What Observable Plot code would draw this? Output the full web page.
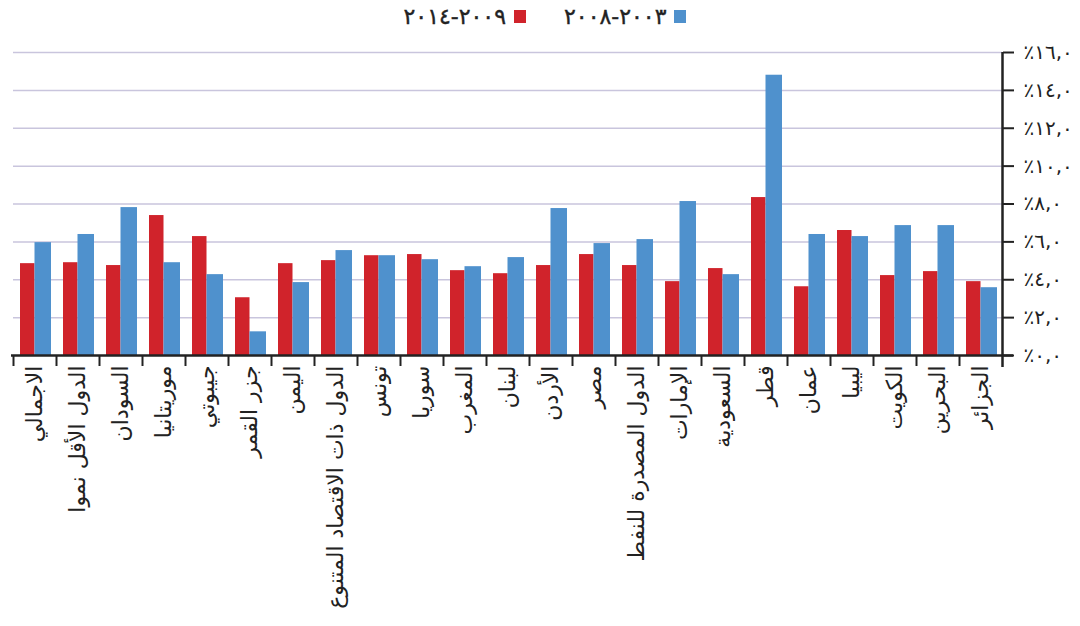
<!DOCTYPE html>
<html><head><meta charset="utf-8">
<script src="https://cdn.jsdelivr.net/npm/d3@7"></script>
<script src="https://cdn.jsdelivr.net/npm/@observablehq/plot@0.6"></script>
<style>
body{margin:0;background:#fff;font-family:"DejaVu Sans",sans-serif;}
#legend{height:32px;display:flex;justify-content:center;align-items:center;direction:rtl;gap:38px;font-size:22px;color:#222;padding-left:10px;}
.item{display:flex;align-items:center;gap:8px;}
.item span{letter-spacing:3px;-webkit-text-stroke:0.4px #222;}
.sw{width:12px;height:13px;}
</style></head><body>
<div id="legend"></div><div id="chart"></div>
<script>
const categories = ["الاجمالي","الدول الأقل نموا","السودان","موريتانيا","جيبوتي","جزر القمر","اليمن","الدول ذات الاقتصاد المتنوع","تونس","سوريا","المغرب","لبنان","الأردن","مصر","الدول المصدرة للنفط","الإمارات","السعودية","قطر","عمان","ليبيا","الكويت","البحرين","الجزائر"];
const series = ["٢٠٠٩-٢٠١٤","٢٠٠٣-٢٠٠٨"];
const values2009_2014 = [4.85,4.9,4.75,7.39,6.28,3.05,4.85,5.01,5.27,5.33,4.48,4.32,4.75,5.33,4.75,3.9,4.59,8.34,3.63,6.6,4.22,4.43,3.9];
const values2003_2008 = [5.96,6.39,7.81,4.9,4.27,1.25,3.85,5.54,5.27,5.06,4.69,5.17,7.76,5.91,6.12,8.13,4.27,14.8,6.39,6.28,6.86,6.86,3.58];
const colors = ["#d0232b","#4f91cd"];
const yTicks = [0,2,4,6,8,10,12,14,16];

const digits = "٠١٢٣٤٥٦٧٨٩";
const ar = s => String(s).replace(/\d/g, c => digits[c]);
const fmt = d => "\u202D٪" + ar(d) + ",٠\u202C";

const rows = [];
categories.forEach((c, i) => {
  rows.push({cat: c, series: series[0], value: values2009_2014[i]});
  rows.push({cat: c, series: series[1], value: values2003_2008[i]});
});

// legend (RTL: blue first on the right)
const legend = document.getElementById("legend");
[[series[1], colors[1]], [series[0], colors[0]]].forEach(([s, col]) => {
  const it = document.createElement("div"); it.className = "item";
  const sw = document.createElement("div"); sw.className = "sw"; sw.style.background = col;
  const t = document.createElement("span"); t.textContent = s;
  it.append(sw, t); legend.append(it);
});

const W = 1080, H = 594, mL = 13, mR = 78, mT = 20, mB = 271;
const step = (W - mL - mR) / categories.length;
const outer = 6, inner = step / 2;
const font = "'DejaVu Sans', sans-serif";

const chart = Plot.plot({
  width: W, height: H,
  marginLeft: mL, marginRight: mR, marginTop: mT, marginBottom: mB,
  style: {fontFamily: font, color: "#222", background: "#fff", overflow: "visible"},
  x: {type: "band", domain: categories, padding: 0},
  y: {domain: [0, 16]},
  marks: [
    Plot.gridY(yTicks.filter(d => d > 0), {stroke: "#c9c5dd", strokeOpacity: 1, strokeWidth: 1.5}),
    Plot.barY(rows.filter(d => d.series === series[0]), {x: "cat", y: "value", fill: colors[0], insetLeft: outer + 1, insetRight: inner}),
    Plot.barY(rows.filter(d => d.series === series[1]), {x: "cat", y: "value", fill: colors[1], insetLeft: inner, insetRight: outer - 1}),
    Plot.ruleY([0], {stroke: "#222", strokeWidth: 2.5, insetLeft: -2, insetRight: -11}),
    Plot.ruleX(categories, {x: d => d, dx: -step / 2, y1: 0, insetBottom: -11, stroke: "#222", strokeWidth: 2}),
    Plot.ruleX([categories[categories.length - 1]], {x: d => d, dx: step / 2, stroke: "#222", strokeWidth: 2.5, insetBottom: -12}),
    Plot.axisY(yTicks, {anchor: "right", tickSize: 11, tickPadding: 10, tickFormat: fmt, fontSize: 20, strokeWidth: 2, label: null}),
    Plot.axisX({tickSize: 0, tickRotate: -90, tickPadding: 10, fontSize: 22, label: null})
  ]
});
document.getElementById("chart").append(chart);
</script>
</body></html>
